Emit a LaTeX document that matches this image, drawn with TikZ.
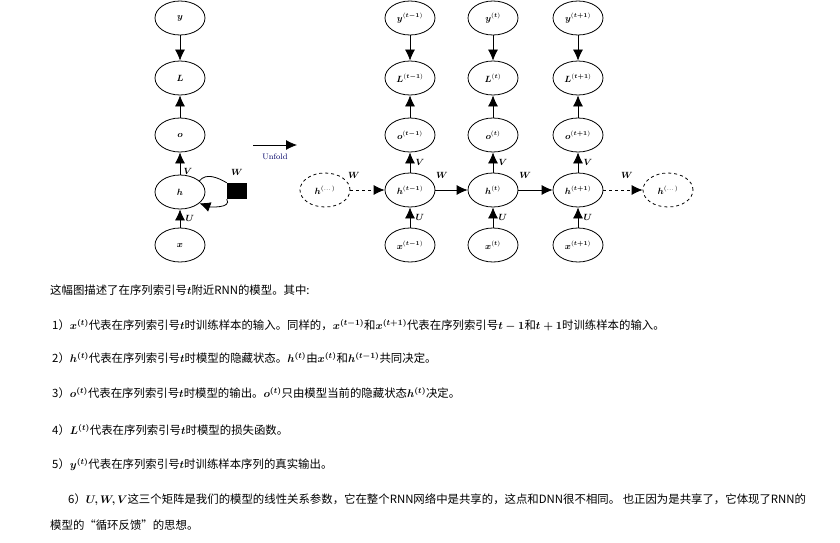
\documentclass[tikz,border=0pt]{standalone}
\usepackage{amsmath,amssymb}
\usepackage{fontspec}
\newfontfamily\cjk{Noto Sans CJK SC}
\usetikzlibrary{arrows.meta,shapes.geometric}
\begin{document}
\begin{tikzpicture}[x=1pt,y=-1pt,
  st/.style={draw,thick,ellipse,minimum width=50pt,minimum height=34pt,inner sep=0pt,font=\small},
  dst/.style={st,dashed},
  ar/.style={-{Latex[length=11pt,width=10pt]},thick},
  lab/.style={font=\small},
  tx/.style={anchor=west,font=\cjk\fontsize{11.4}{13}\selectfont,inner sep=0pt}]
\useasboundingbox (0,0) rectangle (840,543);
\fill[white] (0,0) rectangle (840,543);
% left
\node[st] (y) at (180,18) {$\boldsymbol{y}$};
\node[st] (L) at (180,78) {$\boldsymbol{L}$};
\node[st] (o) at (180,135) {$\boldsymbol{o}$};
\node[st] (h) at (180,192) {$\boldsymbol{h}$};
\node[st] (x) at (180,245) {$\boldsymbol{x}$};
\draw[ar] (y) -- (L);
\draw[ar] (o) -- (L);
\draw[ar] (h) -- node[lab,right,pos=0.15]{$\boldsymbol{V}$} (o);
\draw[ar] (x) -- node[lab,right=2pt,pos=0.5]{$\boldsymbol{U}$} (h);
\node[fill=black,minimum width=20pt,minimum height=16pt,inner sep=0pt] (sq) at (237,191) {};
\node[lab] (wl) at (237,172) {$\boldsymbol{W}$};
\draw[thick] (h.30) to[out=50,in=150] (sq.north west);
\draw[ar] (sq.south west) to[out=-60,in=-20] (h.-30);
% unfold
\coordinate (u1) at (253,145);
\coordinate (u2) at (297,145);
\draw[ar] (u1) -- (u2);
\node[font=\footnotesize,text=blue!40!black] (uf) at (275,157) {Unfold};
% right
\node[dst] (hl) at (325,190) {$\boldsymbol{h}^{(\dots)}$};
\node[dst] (hr) at (668,190) {$\boldsymbol{h}^{(\dots)}$};
\foreach \n/\cx/\s in {a/410/{t-1},b/493/{t},c/578/{t+1}}{
  \node[st] (y\n) at (\cx,18) {$\boldsymbol{y}^{(\boldsymbol{\s})}$};
  \node[st] (L\n) at (\cx,78) {$\boldsymbol{L}^{(\boldsymbol{\s})}$};
  \node[st] (o\n) at (\cx,135) {$\boldsymbol{o}^{(\boldsymbol{\s})}$};
  \node[st] (h\n) at (\cx,190) {$\boldsymbol{h}^{(\boldsymbol{\s})}$};
  \node[st] (x\n) at (\cx,245) {$\boldsymbol{x}^{(\boldsymbol{\s})}$};
  \draw[ar] (y\n) -- (L\n);
  \draw[ar] (o\n) -- (L\n);
  \draw[ar] (h\n) -- node[lab,right=2pt,pos=0.5]{$\boldsymbol{V}$} (o\n);
  \draw[ar] (x\n) -- node[lab,right=2pt,pos=0.5]{$\boldsymbol{U}$} (h\n);
}
\draw[ar,dashed] (hl) -- node[lab,above=8pt,pos=0.1]{$\boldsymbol{W}$} (ha);
\draw[ar] (ha) -- node[lab,above=8pt,pos=0.2]{$\boldsymbol{W}$} (hb);
\draw[ar] (hb) -- node[lab,above=8pt,pos=0.2]{$\boldsymbol{W}$} (hc);
\draw[ar,dashed] (hc) -- node[lab,above=8pt,pos=0.6]{$\boldsymbol{W}$} (hr);
% text
\node[tx] (t0) at (50,290) {这幅图描述了在序列索引号$\boldsymbol{t}$附近RNN的模型。其中:};
\node[tx] (t1) at (52,325) {1）$\boldsymbol{x^{(t)}}$代表在序列索引号$\boldsymbol{t}$时训练样本的输入。同样的，$\boldsymbol{x^{(t-1)}}$和$\boldsymbol{x^{(t+1)}}$代表在序列索引号$\boldsymbol{t-1}$和$\boldsymbol{t+1}$时训练样本的输入。};
\node[tx] (t2) at (52,358) {2）$\boldsymbol{h^{(t)}}$代表在序列索引号$\boldsymbol{t}$时模型的隐藏状态。$\boldsymbol{h^{(t)}}$由$\boldsymbol{x^{(t)}}$和$\boldsymbol{h^{(t-1)}}$共同决定。};
\node[tx] (t3) at (52,393) {3）$\boldsymbol{o^{(t)}}$代表在序列索引号$\boldsymbol{t}$时模型的输出。$\boldsymbol{o^{(t)}}$只由模型当前的隐藏状态$\boldsymbol{h^{(t)}}$决定。};
\node[tx] (t4) at (52,430) {4）$\boldsymbol{L^{(t)}}$代表在序列索引号$\boldsymbol{t}$时模型的损失函数。};
\node[tx] (t5) at (52,465) {5）$\boldsymbol{y^{(t)}}$代表在序列索引号$\boldsymbol{t}$时训练样本序列的真实输出。};
\node[tx] (t6) at (68,500) {6）$\boldsymbol{U,W,V}$这三个矩阵是我们的模型的线性关系参数，它在整个RNN网络中是共享的，这点和DNN很不相同。 也正因为是共享了，它体现了RNN的};
\node[tx] (t7) at (50,525) {模型的“循环反馈”的思想。};
\end{tikzpicture}
\end{document}
